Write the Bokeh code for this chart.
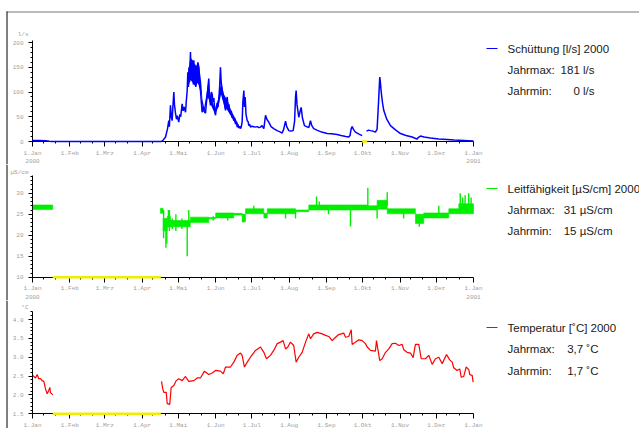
from bokeh.plotting import figure
from bokeh.layouts import column
from bokeh.models import (FixedTicker, Label, Arrow, Range1d, PrintfTickFormatter, LinearAxis)
from bokeh.embed import file_html
from bokeh.resources import INLINE

NaN = float("nan")

# x axis: day of year 2000 (0 = 1 Jan 2000, 366 = 1 Jan 2001)
month_start = [0, 31, 60, 91, 121, 152, 182, 213, 244, 274, 305, 335, 366]
month_names = ["1.Jan", "1.Feb", "1.Mrz", "1.Apr", "1.Mai", "1.Jun", "1.Jul",
               "1.Aug", "1.Sep", "1.Okt", "1.Nov", "1.Dez", "1.Jan"]
year_names = {0: "2000", 366: "2001"}
minor_days = [m + k for m in month_start[:-1] for k in (9, 19)]

# ---- Schüttung [l/s]
flow_day = [0, 5, 11, 14, 16, 107, 108.5, 110.4, 112, 113.1, 113.6, 114.5, 115.2, 115.9, 116.5,
            117.3, 117.8, 118.7, 119.5, 120.2, 121.4, 122.3, 123, 124.2, 125, 125.8, 127, 127.6,
            128.4, 128.9, 129.4, 129.9, 130.4, 131.1, 131.6, 132.1, 132.5, 133.1, 133.5, 133.9,
            134.4, 135, 135.5, 136.1, 136.7, 137.3, 138, 138.5, 139.4, 140.1, 140.8, 141.5, 142.2,
            143.6, 144.4, 145.1, 145.7, 146.3, 146.9, 147.7, 148.4, 149.1, 149.8, 150.5, 151.2,
            151.9, 152.6, 153.3, 154, 154.6, 155.3, 156, 156.6, 157.5, 158.2, 159, 159.6, 160.2,
            160.9, 161.6, 162.3, 163, 163.6, 164.3, 165, 165.6, 166.3, 167, 167.7, 168.5, 169.2,
            169.9, 170.6, 171.3, 172, 172.6, 173.3, 174, 174.6, 175.4, 175.9, 176.5, 177.2, 178.2,
            179, 179.5, 180.2, 180.9, 182, 183.7, 185, 186.5, 188, 189.2, 190.5, 192, 193.4, 194.5,
            196.1, 198, 200.2, 203, 205, 207.2, 208.5, 210, 211, 212.7, 214.5, 216.3, 217.5, 218.3,
            218.8, 219.5, 221, 222, 223, 224, 225.7, 227.5, 229.3, 230.7, 231.8, 233.4, 236, 240,
            244.6, 248, 252.9, 256, 260, 262.5, 263.5, 264.5, 265.3, 266.5, 268, 271, 273.6, 275.5,
            277.2, 279, 280.5, 282.5, 284.6, 286, 287.2, 288.2, 288.7, 289.4, 290.5, 291.5, 294,
            297.1, 301, 305.4, 310, 315.1, 317, 319.2, 320, 322, 325, 330.3, 337, 344.1, 350,
            357.9, 366]
flow_val = [2, 2, 1.5, 0.3, 0, 0, 3, 9, 25, 42, 30, 73, 50, 42, 70,
            100, 75, 57, 45, 52, 39, 55, 50, 76, 62, 70, 59, 80,
            103, 140, 110, 150, 120, 181, 135, 165, 130, 160, 115, 164,
            120, 155, 110, 145, 123, 160, 150, 115, 103, 80, 59, 70, 62,
            57, 80, 95, 112, 127, 90, 73, 100, 96, 80, 88, 62,
            53, 70, 78, 70, 86, 110, 150, 120, 103, 85, 92, 70, 63,
            80, 90, 70, 75, 60, 57, 62, 48, 52, 42, 48, 35, 40,
            29, 34, 27, 31, 26, 30, 40, 80, 103, 70, 90, 55, 42,
            40, 32, 35, 29, 31, 30, 29, 30, 28, 29, 32, 26, 53, 45,
            39, 30, 26, 22, 20, 17, 25, 41, 30, 22, 21, 22, 40, 90,
            103, 75, 49, 60, 69, 48, 32, 30, 28, 42, 32, 26, 23, 19,
            16, 15.5, 14, 12, 10, 9, 12, 26, 30, 24, 19, 15, 12, NaN,
            21, 23, 22, 21, 19, 25, 80, 130, 120, 100, 78, 63, 45,
            32, 24, 16, 12, 9, 7, 5, 8, 11, 9, 7, 5, 4, 3,
            2, 1]
# envelope of the densely oscillating record in May / June
flow_env_day = [129.5, 131, 132.5, 134, 135.5, 137, 138.5, 140, 141,
                142.5, 144, 145.5, 147, 151.5, 154, 156.5, 159, 162, 165, 168, 171]
flow_env_lo = [110, 125, 120, 115, 110, 118, 112, 95, 70,
               58, 75, 90, 80, 55, 68, 95, 72, 62, 50, 38, 27]
flow_env_hi = [145, 170, 165, 160, 150, 160, 150, 120, 85,
               68, 90, 115, 100, 65, 85, 120, 95, 82, 62, 48, 34]
flow_gap_start = [273.6]
flow_gap_end = [277.8]

# ---- Leitfähigkeit [µS/cm]  (bands: low/high of the noisy record)
cond_start = [0, 106.2, 108.4, 111.8, 114.5, 131.0, 146.3, 152.0, 167.0, 174.0, 176.8, 192.0,
              194.8, 218.3, 229.3, 247.3, 263.9, 277.8, 286.0, 294.4, 317.8, 324.7, 345.5, 353.8]
cond_end = [16.8, 108.4, 111.8, 114.5, 131.0, 146.3, 152.0, 167.0, 174.0, 176.8, 192.0, 194.8,
            218.3, 229.3, 247.3, 263.9, 277.8, 286.0, 294.4, 317.8, 324.7, 345.5, 353.8, 366]
cond_lo = [26.1, 25.2, 21.0, 22.0, 22.0, 23.0, 23.9, 24.1, 24.8, 23.2, 25.1, 24.1,
           25.1, 25.6, 26.0, 26.0, 26.0, 26.0, 26.2, 25.1, 22.8, 24.1, 25.1, 25.1]
cond_hi = [27.2, 26.4, 24.0, 24.5, 23.5, 24.3, 24.2, 25.3, 25.2, 25.0, 26.3, 25.2,
           26.3, 26.0, 27.2, 27.2, 27.2, 27.0, 28.3, 26.3, 25.0, 25.3, 26.3, 27.5]
spike_day = [108.8, 110.7, 111.5, 112.8, 113.6, 116, 119, 124, 128.4, 129.7, 150, 162, 183.7,
             175, 210, 218.3, 235.7, 238, 245.6, 263.9, 278.3, 286, 294.4, 308, 321, 337.2,
             355, 357, 359, 362, 364]
spike_lo = [19.3, 17, 18, 22, 21, 21.5, 21, 21.5, 15, 22, 23.5, 23.5, 25.5, 23.0, 24, 24, 26.5,
            26.5, 25, 22.1, 26.5, 24, 27, 24, 22, 24.5, 25.5, 25.5, 25.5, 25.5, 25.5]
spike_hi = [26, 24, 23, 26, 26, 24, 25, 24, 23, 26, 24.5, 25, 27, 25, 25.5, 25.5, 29.2, 28,
            26.5, 26.5, 31.3, 27, 30.2, 25.5, 25, 27, 30, 29, 29.5, 30, 29]
cond_gap_start = [16.8]
cond_gap_end = [106.5]

# ---- Temperatur [˚C]
temp_day = [0.2, 2.5, 3.9, 5.2, 6.6, 8.0, 9.4, 10.8, 12.2, 13.5, 14.4, 14.9, 16.8, 60,
            107.1, 108.1, 109.0, 111.0, 111.8, 113.9, 115.1, 117.3, 119.3, 121.4, 124.2, 127.0,
            129.7, 133.9, 136.7, 139.4, 142.7, 146.3, 149.1, 151.9, 156.0, 158.3, 160.2, 164.3,
            167.1, 169.9, 172.6, 174.0, 175.9, 178.2, 180.9, 185.1, 189.2, 192.0, 194.2, 197.5,
            200.2, 203.1, 205.8, 208.0, 210.0, 211.9, 214.1, 216.8, 218.8, 221.0, 223.8, 226.6,
            229.3, 230.7, 233.4, 236.3, 240.4, 243.2, 245.9, 248.7, 251.5, 254.2, 258.3, 259.8,
            262.5, 264.5, 265.3, 268.0, 270.8, 273.6, 276.3, 277.8, 280.5, 284.6, 285.5, 286.6,
            288.2, 290.2, 293.0, 295.7, 298.5, 301.2, 304.0, 306.8, 308.1, 310.9, 313.7, 315.9,
            317.8, 320.6, 322.6, 326.1, 328.9, 331.7, 334.4, 337.2, 340.0, 343.6, 346.3, 348.3,
            349.6, 352.4, 354.6, 355.8, 357.9, 359.9, 362.1, 362.9, 364.9, 365.7]
temp_val = [2.52, 2.45, 2.54, 2.43, 2.43, 2.38, 2.36, 2.16, 2.03, 2.12, 2.2, 2.06, 2.0, NaN,
            2.36, 2.16, 2.07, 2.07, 1.77, 1.75, 2.2, 2.25, 2.38, 2.43, 2.38, 2.49,
            2.36, 2.38, 2.45, 2.45, 2.63, 2.54, 2.58, 2.65, 2.63, 2.56, 2.74, 2.74,
            2.87, 3.05, 3.11, 3.05, 2.74, 2.87, 3.0, 3.18, 3.27, 3.13, 2.96, 3.05,
            3.18, 3.36, 3.4, 3.44, 3.22, 3.27, 3.4, 3.31, 2.87, 3.0, 3.13, 3.4,
            3.62, 3.49, 3.62, 3.66, 3.62, 3.58, 3.55, 3.44, 3.53, 3.6, 3.64, 3.53,
            3.55, 3.73, 3.34, 3.4, 3.46, 3.44, 3.36, 3.27, 3.18, 3.16, 3.44, 3.22,
            2.91, 2.96, 3.13, 3.22, 3.36, 3.37, 3.31, 3.34, 3.2, 3.13, 3.11, 2.99,
            3.34, 3.34, 2.96, 2.96, 3.05, 2.81, 2.96, 3.0, 2.83, 3.07, 2.93, 2.87,
            2.72, 2.65, 2.69, 2.47, 2.49, 2.74, 2.67, 2.54, 2.52, 2.34]
temp_gap_start = [16.8]
temp_gap_end = [106.5]

BLUE, GREEN, RED, YELLOW = "#0000ff", "#00ee00", "#ff0000", "#eeee00"
TICK_FONT = "Liberation Mono"
TEXT_FONT = "Liberation Sans"
TICK_COLOR = "#a0a0a0"
TXT_COLOR = "#1a1a1a"
TXT_SIZE = "11.5px"

# geometry (pixels): plot frame spans x 32..473 for days 0..366
X0_PX, X1_PX, W = 32, 473, 639
PX_PER_DAY = (X1_PX - X0_PX) / 366.0


def make_panel(H, base_py, base_val, top_py, top_val, axis_top, yticks, yminor, two_line):
    """H: figure height; base_py/top_py: figure-pixel rows of two tick values."""
    upp = (top_val - base_val) / (base_py - top_py)          # units per pixel
    y_start = base_val - (H - base_py) * upp
    y_end = base_val + base_py * upp
    x_start = -X0_PX / PX_PER_DAY
    x_end = 366 + (W - X1_PX) / PX_PER_DAY
    p = figure(width=W, height=H, x_range=Range1d(x_start, x_end),
               y_range=Range1d(y_start, y_end), output_backend="svg", toolbar_location=None,
               x_axis_location=None, y_axis_location=None, min_border=0)
    p.outline_line_color = None
    p.grid.visible = False
    p.background_fill_color = "white"
    p.border_fill_color = "white"

    xa = LinearAxis(fixed_location=base_val, bounds=(0, 366),
                    ticker=FixedTicker(ticks=month_start, minor_ticks=minor_days))
    ov = {}
    for d, n in zip(month_start, month_names):
        ov[d] = n + ("\n" + year_names[d] if (two_line and d in year_names) else "")
    xa.major_label_overrides = ov
    ya = LinearAxis(fixed_location=0, bounds=(base_val, axis_top),
                    ticker=FixedTicker(ticks=yticks, minor_ticks=yminor))
    for ax in (xa, ya):
        ax.axis_line_color = "black"
        ax.major_tick_line_color = "black"
        ax.minor_tick_line_color = "black"
        ax.major_label_text_font = TICK_FONT
        ax.major_label_text_font_size = "6px"
        ax.major_label_text_color = TICK_COLOR
        ax.major_tick_in = 0
        ax.minor_tick_in = 0
    xa.major_tick_out = 5
    xa.minor_tick_out = 2
    xa.major_label_standoff = 3
    ya.major_tick_out = 4
    ya.minor_tick_out = 2
    ya.major_label_standoff = 5
    p.add_layout(xa, "below")
    p.add_layout(ya, "left")
    return p


def seg(p, H, x0, y0, x1, y1, color, width=1.0):
    # straight guide line given in figure pixels (top-left origin)
    p.add_layout(Arrow(end=None, x_start=x0, y_start=H - y0, x_end=x1, y_end=H - y1,
                       start_units="screen", end_units="screen",
                       line_color=color, line_width=width))


def text(p, H, px, py, txt, align, font, size, color):
    p.add_layout(Label(x=px, y=H - py, x_units="screen", y_units="screen", text=txt,
                       text_font=font, text_font_size=size, text_color=color,
                       text_baseline="middle", text_align=align))


def legend(p, H, color, title, unit, unit_y, vals, value_right, y_title, y_max, y_min):
    seg(p, H, 486, y_title, 497, y_title, color, 1.2)
    text(p, H, 507, y_title, title, "left", TEXT_FONT, TXT_SIZE, TXT_COLOR)
    text(p, H, 507, y_max, "Jahrmax:", "left", TEXT_FONT, TXT_SIZE, TXT_COLOR)
    text(p, H, 507, y_min, "Jahrmin:", "left", TEXT_FONT, TXT_SIZE, TXT_COLOR)
    text(p, H, value_right, y_max, vals[0], "right", TEXT_FONT, TXT_SIZE, TXT_COLOR)
    text(p, H, value_right, y_min, vals[1], "right", TEXT_FONT, TXT_SIZE, TXT_COLOR)
    text(p, H, 28, unit_y, unit, "right", TICK_FONT, "6px", TICK_COLOR)


# panel 1: Schüttung   (figure rows: 0 l/s at 141, 200 l/s at 42)
H1 = 164
p1 = make_panel(H1, 141, 0, 42, 200, 204, [0, 50, 100, 150, 200], list(range(0, 201, 10)), True)
p1.segment(x0=flow_gap_start, y0=[0] * len(flow_gap_start), x1=flow_gap_end,
           y1=[0] * len(flow_gap_end), line_color=YELLOW, line_width=2.5, level="overlay")
p1.varea(x=flow_env_day, y1=flow_env_lo, y2=flow_env_hi, fill_color=BLUE)
p1.line(flow_day, flow_val, line_color=BLUE, line_width=1.5, level="overlay")
legend(p1, H1, BLUE, "Schüttung [l/s] 2000", "l/s", 34, ["181 l/s", "0 l/s"], 594, 48, 69, 90)
seg(p1, H1, 6, 11.5, 639, 11.5, "#777777", 1)
seg(p1, H1, 6.5, 11, 6.5, H1, "#000000", 1)

# panel 2: Leitfähigkeit   (figure rows: 10 at 112.7, 30 at 28.7)
H2 = 136
p2 = make_panel(H2, 112.7, 10, 28.7, 30, 34.2, [10, 15, 20, 25, 30], list(range(10, 35)), True)
p2.quad(left=cond_start, right=cond_end, bottom=cond_lo, top=cond_hi,
        fill_color=GREEN, line_color=GREEN, line_width=0.6)
p2.segment(x0=spike_day, y0=spike_lo, x1=spike_day, y1=spike_hi, line_color=GREEN, line_width=1.4)
p2.segment(x0=cond_gap_start, y0=[10] * len(cond_gap_start), x1=cond_gap_end,
           y1=[10] * len(cond_gap_end), line_color=YELLOW, line_width=2.5, level="overlay")
legend(p2, H2, GREEN, "Leitfähigkeit [µS/cm] 2000", "µS/cm", 7.5, ["31 µS/cm", "15 µS/cm"],
       612, 24, 45, 66)
seg(p2, H2, 6.5, 0, 6.5, H2, "#000000", 1)

# panel 3: Temperatur   (figure rows: 1.5 at 113.3, 4.0 at 19)
H3 = 128
p3 = make_panel(H3, 113.3, 1.5, 19, 4.0, 4.21, [1.5, 2.0, 2.5, 3.0, 3.5, 4.0],
                [1.5 + 0.1 * i for i in range(28)], False)
p3.left[0].formatter = PrintfTickFormatter(format="%.1f")
p3.line(temp_day, temp_val, line_color=RED, line_width=1.2)
p3.segment(x0=temp_gap_start, y0=[1.5] * len(temp_gap_start), x1=temp_gap_end,
           y1=[1.5] * len(temp_gap_end), line_color=YELLOW, line_width=2.5, level="overlay")
legend(p3, H3, RED, "Temperatur [˚C] 2000", "°C", 6.5, ["3,7 ˚C", "1,7 ˚C"],
       598, 27, 48, 70)
seg(p3, H3, 6.5, 0, 6.5, H3, "#000000", 1)

layout = column(p1, p2, p3, spacing=0)
open("out.html", "w").write(file_html(layout, INLINE))
